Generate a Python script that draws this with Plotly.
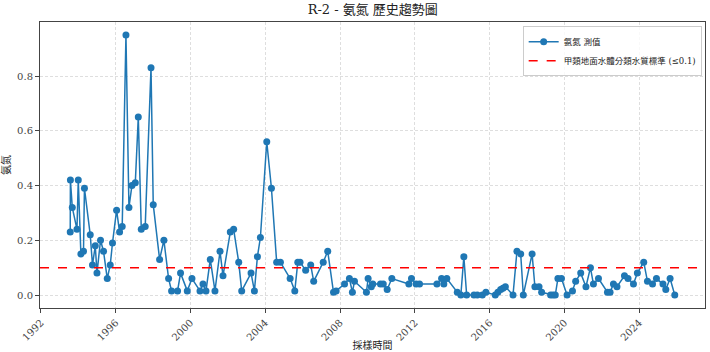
import plotly.graph_objects as go

# Sampling time (decimal year) and ammonia-nitrogen values (mg/L)
sample_year = [
    1993.57, 1993.58, 1993.68, 1993.93, 1994.00, 1994.14, 1994.28, 1994.33, 1994.64, 1994.76,
    1994.91, 1995.00, 1995.19, 1995.35, 1995.55, 1995.71, 1995.83, 1996.05, 1996.21, 1996.35,
    1996.55, 1996.71, 1996.87, 1997.05, 1997.21, 1997.37, 1997.58, 1997.89, 1998.01, 1998.35,
    1998.58, 1998.83, 1998.99, 1999.31, 1999.47, 1999.83, 2000.08, 2000.51, 2000.67, 2000.83,
    2001.06, 2001.31, 2001.58, 2001.74, 2002.13, 2002.31, 2002.58, 2002.74, 2003.24, 2003.42,
    2003.58, 2003.74, 2004.08, 2004.33, 2004.61, 2004.81, 2005.33, 2005.58, 2005.74, 2005.86,
    2006.16, 2006.43, 2006.59, 2007.10, 2007.34, 2007.65, 2007.79, 2008.24, 2008.50, 2008.66,
    2008.77, 2009.41, 2009.50, 2009.67, 2009.75, 2010.16, 2010.31, 2010.52, 2010.77, 2011.68,
    2011.82, 2012.07, 2012.25, 2013.18, 2013.43, 2013.55, 2013.71, 2014.27, 2014.46, 2014.62,
    2014.77, 2015.16, 2015.34, 2015.61, 2015.80, 2016.30, 2016.44, 2016.59, 2016.71, 2016.84,
    2017.25, 2017.46, 2017.66, 2017.80, 2018.27, 2018.42, 2018.64, 2018.78, 2019.26, 2019.39,
    2019.51, 2019.65, 2019.84, 2020.14, 2020.43, 2020.60, 2020.87, 2021.15, 2021.39, 2021.55,
    2021.82, 2022.30, 2022.44, 2022.62, 2022.81, 2023.21, 2023.40, 2023.69, 2023.90, 2024.24,
    2024.44, 2024.71, 2024.92, 2025.27, 2025.42, 2025.65, 2025.90,
]
nh3n = [
    0.23, 0.42, 0.32, 0.24, 0.42, 0.15, 0.16, 0.39, 0.22, 0.11,
    0.18, 0.08, 0.20, 0.16, 0.06, 0.11, 0.19, 0.31, 0.23, 0.25,
    0.95, 0.32, 0.40, 0.41, 0.65, 0.24, 0.25, 0.83, 0.33, 0.13,
    0.20, 0.06, 0.015, 0.015, 0.08, 0.015, 0.06, 0.015, 0.04, 0.015,
    0.13, 0.015, 0.16, 0.07, 0.23, 0.24, 0.12, 0.015, 0.08, 0.015,
    0.14, 0.21, 0.56, 0.39, 0.12, 0.12, 0.06, 0.015, 0.12, 0.12,
    0.09, 0.11, 0.05, 0.12, 0.16, 0.01, 0.015, 0.04, 0.06, 0.01,
    0.05, 0.01, 0.06, 0.03, 0.04, 0.04, 0.04, 0.02, 0.06, 0.04,
    0.06, 0.04, 0.04, 0.04, 0.06, 0.04, 0.06, 0.01, 0.0, 0.14,
    0.0, 0.0, 0.0, 0.0, 0.01, 0.0, 0.01, 0.02, 0.025, 0.03,
    0.0, 0.16, 0.15, 0.0, 0.15, 0.03, 0.03, 0.01, 0.0, 0.0,
    0.0, 0.06, 0.06, 0.0, 0.015, 0.05, 0.08, 0.03, 0.10, 0.04,
    0.06, 0.01, 0.01, 0.04, 0.03, 0.07, 0.06, 0.04, 0.08, 0.12,
    0.05, 0.04, 0.06, 0.04, 0.02, 0.06, 0.0,
]
standard_value = 0.1
x_ticks = [1992, 1996, 2000, 2004, 2008, 2012, 2016, 2020, 2024]
y_ticks = [0.0, 0.2, 0.4, 0.6, 0.8]

FONT = "DejaVu Serif, Noto Sans CJK TC, serif"

fig = go.Figure()
fig.add_trace(go.Scatter(
    x=sample_year, y=nh3n, mode="lines+markers", name="氨氮 測值",
    line=dict(color="#1f77b4", width=1.5),
    marker=dict(color="#1f77b4", size=7),
))
fig.add_shape(
    type="line", xref="paper", x0=0, x1=1, yref="y", y0=standard_value, y1=standard_value,
    line=dict(color="red", width=1.5, dash="dash"),
    showlegend=True, name="甲類地面水體分類水質標準 (≤0.1)",
)

xmin, xmax = min(sample_year), max(sample_year)
xpad = (xmax - xmin) * 0.05
ymin, ymax = min(nh3n), max(nh3n)
ypad = (ymax - ymin) * 0.05

axis_common = dict(
    showline=True, linecolor="#444", linewidth=1, mirror=True,
    ticks="outside", ticklen=4, tickcolor="#444",
    showgrid=True, gridcolor="rgba(0,0,0,0.13)", griddash="3px,2px", gridwidth=0.8,
    zeroline=False, automargin=False,
    tickfont=dict(family=FONT, size=10, color="#444"),
)

fig.update_layout(
    width=710, height=352,
    margin=dict(l=40, r=5, t=22, b=44),
    paper_bgcolor="white", plot_bgcolor="white",
    font=dict(family=FONT, color="#222"),
    title=dict(text="R-2 - 氨氮 歷史趨勢圖", x=0.525, xanchor="center", y=0.985, yanchor="top",
               font=dict(family=FONT, size=13, color="#222")),
    xaxis=dict(range=[xmin - xpad, xmax + xpad], tickvals=x_ticks,
               ticktext=[str(t) for t in x_ticks], tickangle=-45,
               title=dict(text="採樣時間", font=dict(family=FONT, size=10), standoff=0),
               **axis_common),
    yaxis=dict(range=[ymin - ypad, ymax + ypad], tickvals=y_ticks,
               ticktext=[f"{t:.1f}" for t in y_ticks],
               title=dict(text="氨氮", font=dict(family=FONT, size=10), standoff=6),
               **axis_common),
    legend=dict(x=0.995, y=0.985, xanchor="right", yanchor="top",
                bgcolor="rgba(255,255,255,0.8)", bordercolor="#ccc", borderwidth=1,
                font=dict(family=FONT, size=8.5), tracegroupgap=0, itemwidth=30),
    showlegend=True,
)

fig.write_html("out.html")
